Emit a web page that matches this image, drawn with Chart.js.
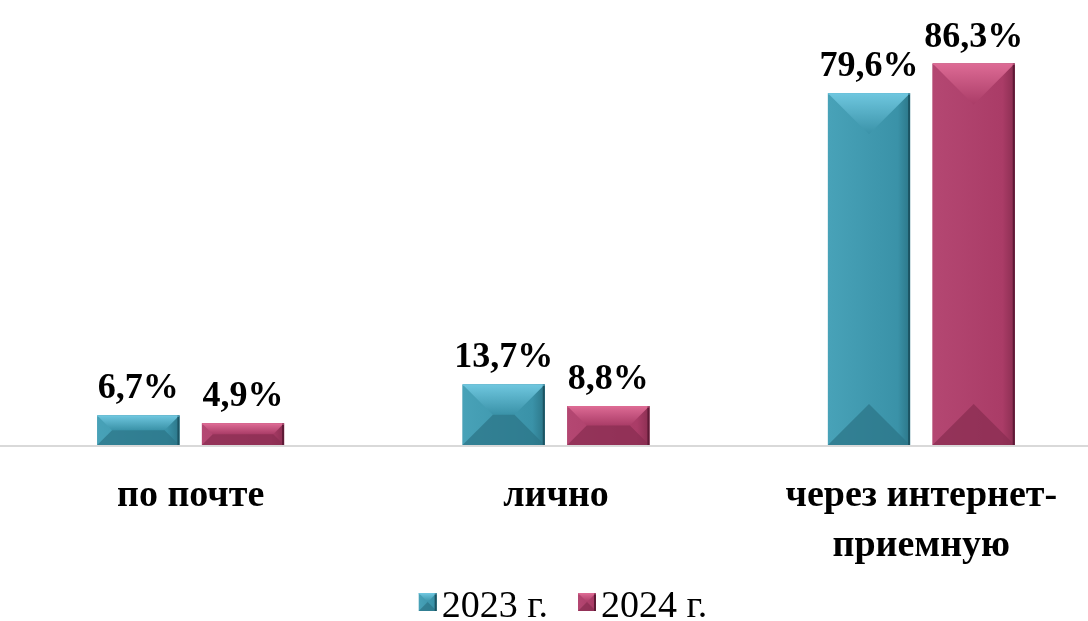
<!DOCTYPE html>
<html>
<head>
<meta charset="utf-8">
<script src="https://cdn.jsdelivr.net/npm/chart.js@4.4.1/dist/chart.umd.min.js"></script>
<style>
  html, body { margin: 0; padding: 0; background: #fff; overflow: hidden; }
  #wrap { width: 1088px; height: 621px; overflow: hidden; position: relative; }
  canvas { position: absolute; left: 0; top: 0; }
</style>
</head>
<body>
<div id="wrap"><canvas id="chart" width="1104" height="621"></canvas></div>
<script>
// data
const categories = [['по почте'], ['лично'], ['через интернет-', 'приемную']];
const seriesNames = ['2023 г.', '2024 г.'];
const values2023 = [6.7, 13.7, 79.6];
const values2024 = [4.9, 8.8, 86.3];

const FONT = "'Liberation Serif', 'Times New Roman', serif";

const palette = [
  { face: '#3a92a8', light: '#6fc7df', dark: '#2c7688', left: '#48a2b8', edge: '#1c5463' },
  { face: '#aa3c67', light: '#dd6b95', dark: '#8a2e51', left: '#b44772', edge: '#5e1a36' },
];

function pct(v) {
  return v.toFixed(1).replace('.', ',') + '%';
}

// beveled box, used for bars and legend squares
function bevel(ctx, x0, y0, x1, y1, c) {
  const w = x1 - x0, h = y1 - y0;
  const d = Math.min(w / 2, h / 2);
  const g = ctx.createLinearGradient(x0, 0, x1, 0);
  g.addColorStop(0, c.left);
  g.addColorStop(0.85, c.face);
  g.addColorStop(1, c.dark);
  ctx.fillStyle = g;
  ctx.fillRect(x0, y0, w, h);

  // top facet
  const tg = ctx.createLinearGradient(0, y0, 0, y0 + d);
  tg.addColorStop(0, c.light);
  tg.addColorStop(1, c.face);
  ctx.fillStyle = tg;
  ctx.beginPath();
  ctx.moveTo(x0, y0); ctx.lineTo(x1, y0);
  ctx.lineTo(x1 - d, y0 + d); ctx.lineTo(x0 + d, y0 + d);
  ctx.closePath(); ctx.fill();

  // bottom facet
  ctx.fillStyle = c.dark;
  ctx.globalAlpha = 0.75;
  ctx.beginPath();
  ctx.moveTo(x0, y1); ctx.lineTo(x1, y1);
  ctx.lineTo(x1 - d, y1 - d); ctx.lineTo(x0 + d, y1 - d);
  ctx.closePath(); ctx.fill();
  ctx.globalAlpha = 1;

  // right dark edge
  ctx.fillStyle = c.edge;
  ctx.fillRect(x1 - 2, y0, 2, h);
  ctx.fillStyle = c.light;
  ctx.globalAlpha = 0.6;
  ctx.fillRect(x0, y0, w, 1.5);
  ctx.globalAlpha = 1;
}

const decor = {
  id: 'decor',
  beforeDatasetsDraw(chart) {
    const { ctx, chartArea } = chart;
    ctx.save();
    ctx.strokeStyle = '#d9d9d9';
    ctx.lineWidth = 2;
    ctx.beginPath();
    ctx.moveTo(0, chartArea.bottom + 1);
    ctx.lineTo(chart.width, chartArea.bottom + 1);
    ctx.stroke();
    ctx.restore();
  },
  afterDatasetsDraw(chart) {
    const { ctx } = chart;
    ctx.save();
    chart.data.datasets.forEach((ds, i) => {
      const meta = chart.getDatasetMeta(i);
      meta.data.forEach((bar, j) => {
        const x0 = bar.x - bar.width / 2, x1 = bar.x + bar.width / 2;
        bevel(ctx, x0, bar.y, x1, bar.base, palette[i]);
        ctx.fillStyle = '#000';
        ctx.font = 'bold 36px ' + FONT;
        ctx.textAlign = 'center';
        ctx.textBaseline = 'alphabetic';
        ctx.fillText(pct(ds.data[j]), bar.x, bar.y - 17);
      });
    });
    ctx.restore();
  },
  afterDraw(chart) {
    const { ctx } = chart;
    ctx.save();
    ctx.font = '38px ' + FONT;
    ctx.textBaseline = 'alphabetic';
    ctx.textAlign = 'left';
    const box = 18, gap = 5, spacing = 30;
    const widths = seriesNames.map(n => ctx.measureText(n).width);
    const total = widths.reduce((a, w) => a + box + gap + w, 0) + spacing * (seriesNames.length - 1);
    let x = 563 - total / 2;
    const yBase = 617;
    seriesNames.forEach((n, i) => {
      bevel(ctx, x, yBase - 24, x + box, yBase - 6, palette[i]);
      ctx.fillStyle = '#000';
      ctx.fillText(n, x + box + gap, yBase);
      x += box + gap + widths[i] + spacing;
    });
    ctx.restore();
  },
};

new Chart(document.getElementById('chart'), {
  type: 'bar',
  data: {
    labels: categories,
    datasets: [
      { label: seriesNames[0], data: values2023, backgroundColor: palette[0].face },
      { label: seriesNames[1], data: values2024, backgroundColor: palette[1].face },
    ],
  },
  options: {
    responsive: false,
    animation: false,
    devicePixelRatio: 1,
    layout: { padding: { left: 8, right: 0, top: 3, bottom: 0 } },
    categoryPercentage: 0.573,
    barPercentage: 0.785,
    plugins: {
      legend: { display: false },
      tooltip: { enabled: false },
    },
    scales: {
      x: {
        grid: { display: false },
        border: { display: false },
        ticks: {
          color: '#000',
          padding: 18,
          maxRotation: 0,
          autoSkip: false,
          font: { family: FONT, size: 38, weight: 'bold', lineHeight: 1.316 },
        },
        afterFit(scale) { scale.height = 621 - 445; },
      },
      y: {
        display: false,
        min: 0,
        max: 100,
      },
    },
  },
  plugins: [decor],
});
</script>
</body>
</html>
